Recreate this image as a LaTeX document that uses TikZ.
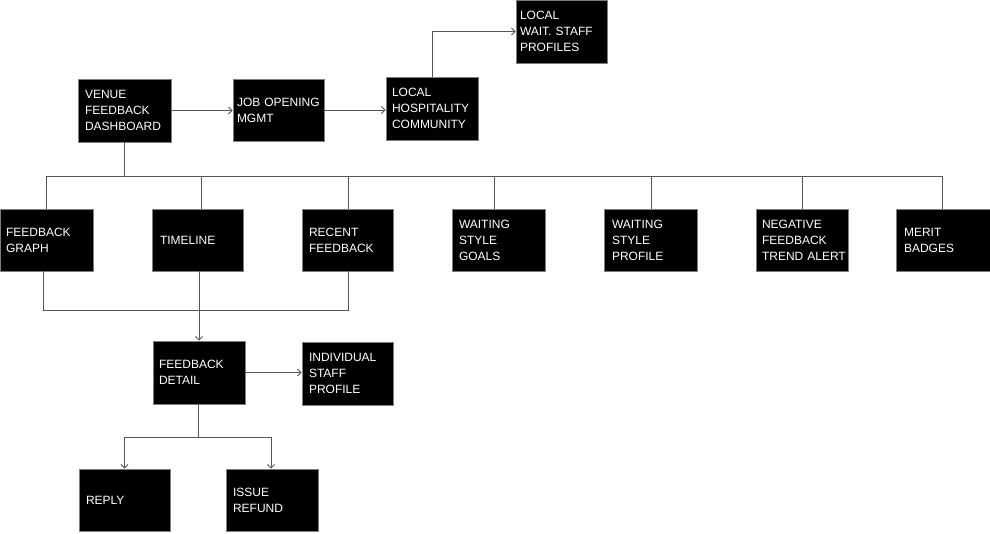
\documentclass[tikz,border=0pt]{standalone}
\usepackage{fontspec}
\setmainfont{Liberation Sans}
\usetikzlibrary{arrows.meta}
\definecolor{linec}{HTML}{555555}
\definecolor{edgec}{HTML}{7F7F7F}
\begin{document}
\begin{tikzpicture}[x=1pt,y=-1pt,
  bx/.style={draw=edgec, line width=0.9pt, fill=black, text=white, align=left,
    font=\fontsize{12}{16}\selectfont, inner ysep=0pt, minimum height=63pt},
  conn/.style={draw=linec, line width=0.9pt},
  arr/.style={conn, -{Straight Barb[length=3.5pt,width=7pt]}}]
\useasboundingbox (0,0) rectangle (990,533);
% row 1
\node[bx, text width=79pt, inner xsep=7pt] (venue) at (124.5,110.5) {VENUE\\FEEDBACK\\DASHBOARD};
\node[bx, text width=83pt, inner xsep=4pt, minimum height=62pt] (job) at (278.5,110) {JOB~OPENING\\MGMT};
\node[bx, text width=80pt, inner xsep=6pt] (lhc) at (432,108.5) {LOCAL\\HOSPITALITY\\COMMUNITY};
\node[bx, text width=83pt, inner xsep=4pt] (lwsp) at (561.5,31.5) {LOCAL\\WAIT.~STAFF\\PROFILES};
% row 2
\node[bx, text width=81pt, inner xsep=6pt, minimum height=62pt] (fg) at (46.5,240) {FEEDBACK\\GRAPH};
\node[bx, text width=75pt, inner xsep=8pt, minimum height=62pt] (tl) at (197.5,240) {TIMELINE};
\node[bx, text width=77pt, inner xsep=7pt, minimum height=62pt] (rf) at (347.5,240) {RECENT\\FEEDBACK};
\node[bx, text width=79pt, inner xsep=7pt, minimum height=62pt] (wsg) at (498.5,240) {WAITING\\STYLE\\GOALS};
\node[bx, text width=77pt, inner xsep=8pt, minimum height=62pt] (wsp) at (650.5,240) {WAITING\\STYLE\\PROFILE};
\node[bx, text width=80pt, inner xsep=6pt, minimum height=62pt] (nfta) at (802,240) {NEGATIVE\\FEEDBACK\\TREND~ALERT};
\node[bx, text width=78pt, inner xsep=8pt, minimum height=62pt] (mb) at (943,240) {MERIT\\BADGES};
% row 3
\node[bx, text width=80pt, inner xsep=6pt] (fd) at (199,372.5) {FEEDBACK\\DETAIL};
\node[bx, text width=77pt, inner xsep=7pt] (isp) at (347.5,373.5) {INDIVIDUAL\\STAFF\\PROFILE};
% row 4
\node[bx, text width=77pt, inner xsep=7pt, minimum height=62pt] (reply) at (124.5,500) {REPLY};
\node[bx, text width=78pt, inner xsep=7pt, minimum height=62pt] (refund) at (272,500) {ISSUE\\REFUND};
% top connectors
\draw[arr] (venue.east) -- (job.west |- venue.east);
\draw[arr] (job.east) -- (lhc.west |- job.east);
\draw[arr] (lhc.north) |- (lwsp.west);
% bus
\coordinate (busL) at (46,176);
\coordinate (busR) at (942,176);
\draw[conn] (venue.south) -- (venue.south |- busL);
\draw[conn] (busL) -- (busR);
\draw[conn] ([xshift=-0.5pt]fg.north) -- ([xshift=-0.5pt]fg.north |- busL);
\draw[conn] ([xshift=3.5pt]tl.north) -- ([xshift=3.5pt]tl.north |- busL);
\draw[conn] ([xshift=0.5pt]rf.north) -- ([xshift=0.5pt]rf.north |- busL);
\draw[conn] ([xshift=-4.5pt]wsg.north) -- ([xshift=-4.5pt]wsg.north |- busL);
\draw[conn] ([xshift=0.5pt]wsp.north) -- ([xshift=0.5pt]wsp.north |- busL);
\draw[conn] (nfta.north) -- (nfta.north |- busL);
\draw[conn] ([xshift=-1pt]mb.north) -- (busR);
% lower group
\draw[conn] ([xshift=-3.5pt]fg.south) -- ++(0,39) -| ([xshift=0.5pt]rf.south);
\draw[arr] (tl.south -| fd.north) -- (fd.north);
\draw[arr] (fd.east) -- (isp.west |- fd.east);
\draw[conn] ([xshift=-1pt]fd.south) -- ++(0,33) coordinate (fdj);
\draw[arr] (fdj) -| (reply.north);
\draw[arr] (fdj) -| ([xshift=-1pt]refund.north);
\end{tikzpicture}
\end{document}
